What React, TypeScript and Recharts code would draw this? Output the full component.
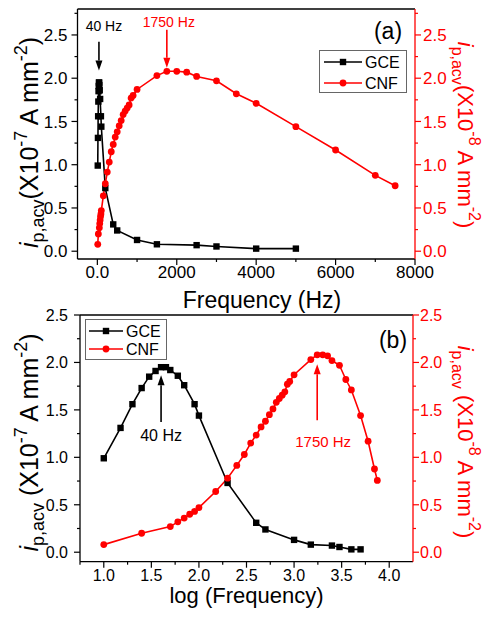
import React from "react";
import { LineChart, Line, XAxis, YAxis, Legend, ReferenceLine } from "recharts";

// GCE: peak current vs frequency
const gceFreq = [10, 15, 20, 25, 30, 35, 40, 45, 50, 60, 70, 90, 100, 200, 400, 500, 1000, 1500, 2500, 3000, 4000, 5000];
const gceCurrent = [0.99, 1.31, 1.56, 1.73, 1.85, 1.91, 1.95, 1.95, 1.92, 1.86, 1.76, 1.56, 1.44, 0.73, 0.31, 0.24, 0.13, 0.08, 0.07, 0.055, 0.03, 0.03];

// CNF: peak current vs frequency
const cnfFreq = [10, 25, 50, 60, 70, 80, 90, 100, 150, 200, 250, 300, 350, 400, 450, 500, 550, 600, 650, 700, 750, 800, 850, 900, 1000, 1500, 1750, 2000, 2250, 2500, 3000, 3500, 4000, 5000, 6000, 7000, 7500];
const cnfCurrent = [0.08, 0.2, 0.27, 0.32, 0.36, 0.4, 0.43, 0.47, 0.64, 0.78, 0.915, 1.03, 1.15, 1.235, 1.32, 1.38, 1.45, 1.51, 1.58, 1.62, 1.655, 1.69, 1.77, 1.8, 1.87, 2.03, 2.08, 2.08, 2.07, 2.02, 1.97, 1.82, 1.71, 1.44, 1.17, 0.877, 0.757];

const freqTicks = [0, 1000, 2000, 3000, 4000, 5000, 6000, 7000, 8000];
const logTicks = [0.75, 1, 1.25, 1.5, 1.75, 2, 2.25, 2.5, 2.75, 3, 3.25, 3.5, 3.75, 4];
const currentTicksA = [0, 0.25, 0.5, 0.75, 1, 1.25, 1.5, 1.75, 2, 2.25, 2.5, 2.75];
const currentTicksB = [0, 0.25, 0.5, 0.75, 1, 1.25, 1.5, 1.75, 2, 2.25, 2.5];
const legendOrder = ["GCE", "CNF"];

const gceRows = gceFreq.map((f, i) => ({ f, lf: Math.log10(f), v: gceCurrent[i] }));
const cnfRows = cnfFreq.map((f, i) => ({ f, lf: Math.log10(f), v: cnfCurrent[i] }));

const FONT = '"Liberation Sans", Arial, sans-serif';
const RED = "#ff0000";
const BLACK = "#000000";

const halfStep = (v: number) => Math.abs(v * 2 - Math.round(v * 2)) < 1e-6;
const every2000 = (v: number) => v % 2000 === 0;

function axisTick(side: "left" | "right" | "bottom", color: string, fontSize: number, isMajor: (v: number) => boolean, gap: number) {
  return (props: any) => {
    const { x, y, payload } = props;
    const v = Number(payload.value);
    const major = isMajor(v);
    const len = major ? 6 : 3;
    const label = Number.isInteger(v) && Math.abs(v) >= 10 ? String(v) : v.toFixed(1);
    if (side === "bottom") {
      return (
        <g>
          <line x1={x} y1={y} x2={x} y2={y + len} stroke={color} strokeWidth={1.2} />
          {major && (
            <text x={x} y={y + gap} dy="0.72em" textAnchor="middle" fill={color} fontSize={fontSize} fontFamily={FONT}>
              {label}
            </text>
          )}
        </g>
      );
    }
    const dir = side === "left" ? -1 : 1;
    return (
      <g>
        <line x1={x} y1={y} x2={x + dir * len} y2={y} stroke={color} strokeWidth={1.2} />
        {major && (
          <text x={x + dir * gap} y={y} dy="0.36em" textAnchor={side === "left" ? "end" : "start"} fill={color} fontSize={fontSize} fontFamily={FONT}>
            {label}
          </text>
        )}
      </g>
    );
  };
}

const squareDot = (props: any) => {
  const { cx, cy, index } = props;
  return <rect key={"s" + index} x={cx - 3.2} y={cy - 3.2} width={6.4} height={6.4} fill={BLACK} />;
};
const circleDot = (props: any) => {
  const { cx, cy, index } = props;
  return <circle key={"c" + index} cx={cx} cy={cy} r={3.4} fill={RED} />;
};

// arrow + text drawn from the segment end points given by the scales
function arrowShape(color: string, text: string, fontSize: number, tdx: number, tdy: number) {
  return (props: any) => {
    const { x1, y1, x2, y2 } = props;
    const down = y2 > y1;
    const head = 10;
    const tipBase = down ? y2 - head : y2 + head;
    return (
      <g>
        <line x1={x1} y1={y1} x2={x2} y2={tipBase} stroke={color} strokeWidth={1.6} />
        <polygon points={`${x2 - 3.5},${tipBase} ${x2 + 3.5},${tipBase} ${x2},${y2}`} fill={color} />
        <text x={x1 + tdx} y={y1 + tdy} textAnchor="middle" fill={color} fontSize={fontSize} fontFamily={FONT}>
          {text}
        </text>
      </g>
    );
  };
}

function legendContent(w: number, h: number, rows: number[], lineX: [number, number], textX: number) {
  return (props: any) => {
    const items = [...(props.payload ?? [])].sort(
      (a: any, b: any) => legendOrder.indexOf(a.value) - legendOrder.indexOf(b.value)
    );
    return (
      <svg width={w} height={h} style={{ display: "block" }}>
        <rect x={0.5} y={0.5} width={w - 1} height={h - 1} fill="#ffffff" stroke="#666666" strokeWidth={1} />
        {items.map((it: any, i: number) => {
          const cy = rows[i];
          const mx = (lineX[0] + lineX[1]) / 2;
          const color = it.value === "GCE" ? BLACK : RED;
          return (
            <g key={it.value}>
              <line x1={lineX[0]} y1={cy} x2={lineX[1]} y2={cy} stroke={color} strokeWidth={1.6} />
              {it.value === "GCE" ? (
                <rect x={mx - 3.2} y={cy - 3.2} width={6.4} height={6.4} fill={color} />
              ) : (
                <circle cx={mx} cy={cy} r={3.4} fill={color} />
              )}
              <text x={textX} y={cy} dy="0.36em" fontSize={16} fontFamily={FONT} fill={BLACK}>
                {it.value}
              </text>
            </g>
          );
        })}
      </svg>
    );
  };
}

function CurrentLabel({ x, y, side, color, exp, spaced, size }: { x: number; y: number; side: "left" | "right"; color: string; exp: string; spaced: boolean; size: number }) {
  const sub = Math.round(size * 0.72);
  return (
    <text
      transform={`translate(${x},${y}) rotate(${side === "left" ? -90 : 90})`}
      textAnchor="middle"
      fontSize={size}
      fontFamily={FONT}
      fill={color}
    >
      <tspan fontStyle="italic">i</tspan>
      <tspan fontSize={sub} dy={6}>p,acv</tspan>
      <tspan dy={-6}>{(spaced ? " " : "") + "(X10"}</tspan>
      <tspan fontSize={sub} dy={-11}>{exp}</tspan>
      <tspan dy={11}>{" A mm"}</tspan>
      <tspan fontSize={sub} dy={-11}>-2</tspan>
      <tspan dy={11}>)</tspan>
    </text>
  );
}

export default function App() {
  return (
    <div style={{ position: "absolute", left: 0, top: 0, width: 493, height: 621, background: "#fff", fontFamily: FONT }}>
      {/* (a) linear frequency */}
      <div style={{ position: "absolute", left: 0, top: 0 }}>
        <LineChart width={493} height={320} margin={{ top: 9, right: 0, bottom: 0, left: 0 }}>
          <XAxis
            xAxisId="f"
            type="number"
            dataKey="f"
            domain={[-500, 8000]}
            ticks={freqTicks}
            interval={0}
            tick={axisTick("bottom", BLACK, 17, every2000, 7)}
            tickLine={false}
            tickSize={0}
            tickMargin={0}
            height={61}
            stroke={BLACK}
            strokeWidth={1.3}
            allowDataOverflow
          />
          <YAxis
            yAxisId="l"
            type="number"
            domain={[-0.09, 2.8]}
            ticks={currentTicksA}
            interval={0}
            tick={axisTick("left", BLACK, 17, halfStep, 10)}
            tickLine={false}
            tickSize={0}
            tickMargin={0}
            width={77.5}
            stroke={BLACK}
            strokeWidth={1.3}
            allowDataOverflow
          />
          <YAxis
            yAxisId="r"
            orientation="right"
            type="number"
            domain={[-0.09, 2.8]}
            ticks={currentTicksA}
            interval={0}
            tick={axisTick("right", RED, 17, halfStep, 8)}
            tickLine={false}
            tickSize={0}
            tickMargin={0}
            width={78}
            stroke={RED}
            strokeWidth={1.3}
            allowDataOverflow
          />
          <ReferenceLine xAxisId="f" yAxisId="l" y={2.8} stroke={BLACK} strokeWidth={1.3} />
          <ReferenceLine
            xAxisId="f"
            yAxisId="l"
            segment={[{ x: 40, y: 2.42 }, { x: 40, y: 2.09 }]}
            shape={arrowShape(BLACK, "40 Hz", 14, 5, -11)}
          />
          <ReferenceLine
            xAxisId="f"
            yAxisId="l"
            segment={[{ x: 1750, y: 2.56 }, { x: 1750, y: 2.12 }]}
            shape={arrowShape(RED, "1750 Hz", 14, 2, -3)}
          />
          <Line
            xAxisId="f"
            yAxisId="l"
            data={gceRows}
            dataKey="v"
            name="GCE"
            stroke={BLACK}
            strokeWidth={1.6}
            dot={squareDot}
            activeDot={false}
            isAnimationActive={false}
          />
          <Line
            xAxisId="f"
            yAxisId="r"
            data={cnfRows}
            dataKey="v"
            name="CNF"
            stroke={RED}
            strokeWidth={1.6}
            dot={circleDot}
            activeDot={false}
            isAnimationActive={false}
          />
          <Legend
            layout="vertical"
            align="center"
            verticalAlign="middle"
            wrapperStyle={{ left: 319, top: 50, width: 88, height: 43 }}
            content={legendContent(88, 43, [12, 33], [5, 43], 46)}
          />
          <CurrentLabel x={38} y={142.5} side="left" color={BLACK} exp="-7" spaced={false} size={25} />
          <CurrentLabel x={458} y={135} side="right" color={RED} exp="-8" spaced={false} size={22} />
          <text x={262} y={308} textAnchor="middle" fontSize={23} fontFamily={FONT} fill={BLACK}>
            Frequency (Hz)
          </text>
          <text x={388} y={39} textAnchor="middle" fontSize={23} fontFamily={FONT} fill={BLACK}>
            (a)
          </text>
        </LineChart>
      </div>

      {/* (b) log frequency */}
      <div style={{ position: "absolute", left: 0, top: 300 }}>
        <LineChart width={493} height={321} margin={{ top: 15, right: 0, bottom: 0, left: 0 }}>
          <XAxis
            xAxisId="lf"
            type="number"
            dataKey="lf"
            domain={[0.75, 4.25]}
            ticks={logTicks}
            interval={0}
            tick={axisTick("bottom", BLACK, 16, halfStep, 8)}
            tickLine={false}
            tickSize={0}
            tickMargin={0}
            height={59.3}
            stroke={BLACK}
            strokeWidth={1.3}
            allowDataOverflow
          />
          <YAxis
            yAxisId="l"
            type="number"
            domain={[-0.1, 2.5]}
            ticks={currentTicksB}
            interval={0}
            tick={axisTick("left", BLACK, 16, halfStep, 12)}
            tickLine={false}
            tickSize={0}
            tickMargin={0}
            width={80}
            stroke={BLACK}
            strokeWidth={1.3}
            allowDataOverflow
          />
          <YAxis
            yAxisId="r"
            orientation="right"
            type="number"
            domain={[-0.1, 2.5]}
            ticks={currentTicksB}
            interval={0}
            tick={axisTick("right", RED, 16, halfStep, 7)}
            tickLine={false}
            tickSize={0}
            tickMargin={0}
            width={80}
            stroke={RED}
            strokeWidth={1.3}
            allowDataOverflow
          />
          <ReferenceLine xAxisId="lf" yAxisId="l" y={2.5} stroke={BLACK} strokeWidth={1.3} />
          <ReferenceLine
            xAxisId="lf"
            yAxisId="l"
            segment={[{ x: Math.log10(40), y: 1.373 }, { x: Math.log10(40), y: 1.866 }]}
            shape={arrowShape(BLACK, "40 Hz", 16, 0, 19)}
          />
          <ReferenceLine
            xAxisId="lf"
            yAxisId="l"
            segment={[{ x: Math.log10(1750), y: 1.39 }, { x: Math.log10(1750), y: 1.98 }]}
            shape={arrowShape(RED, "1750 Hz", 15, 6, 27)}
          />
          <Line
            xAxisId="lf"
            yAxisId="l"
            data={gceRows}
            dataKey="v"
            name="GCE"
            stroke={BLACK}
            strokeWidth={1.6}
            dot={squareDot}
            activeDot={false}
            isAnimationActive={false}
          />
          <Line
            xAxisId="lf"
            yAxisId="r"
            data={cnfRows}
            dataKey="v"
            name="CNF"
            stroke={RED}
            strokeWidth={1.6}
            dot={circleDot}
            activeDot={false}
            isAnimationActive={false}
          />
          <Legend
            layout="vertical"
            align="center"
            verticalAlign="middle"
            wrapperStyle={{ left: 85, top: 19, width: 82, height: 41 }}
            content={legendContent(82, 41, [12, 30], [4, 38], 41)}
          />
          <CurrentLabel x={38} y={142.5} side="left" color={BLACK} exp="-7" spaced={true} size={25} />
          <CurrentLabel x={458} y={142} side="right" color={RED} exp="-8" spaced={true} size={22} />
          <text x={246.5} y={303} textAnchor="middle" fontSize={22} fontFamily={FONT} fill={BLACK}>
            log (Frequency)
          </text>
          <text x={393} y={48} textAnchor="middle" fontSize={23} fontFamily={FONT} fill={BLACK}>
            (b)
          </text>
        </LineChart>
      </div>
    </div>
  );
}
